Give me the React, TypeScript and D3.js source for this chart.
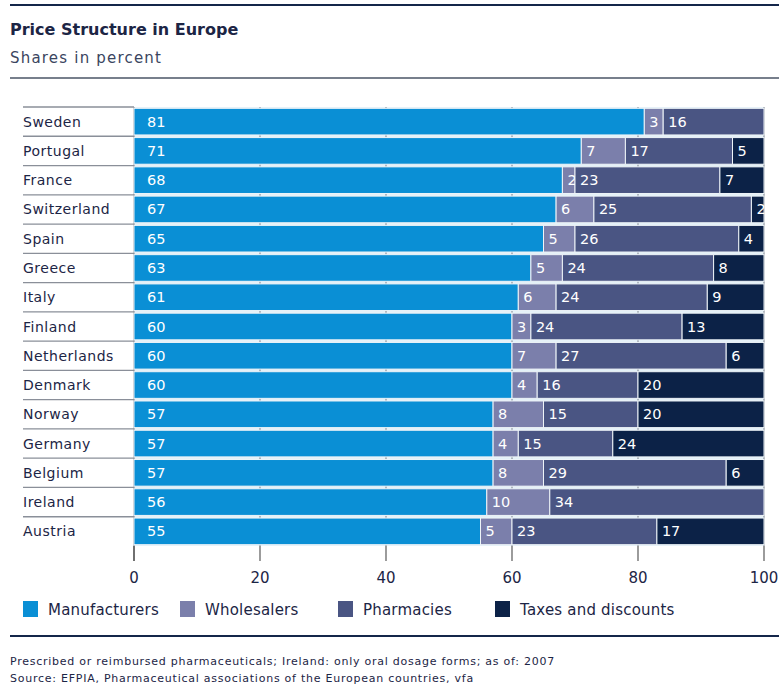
import React from "react";
import * as d3 from "d3";

const countries = ["Sweden", "Portugal", "France", "Switzerland", "Spain", "Greece", "Italy", "Finland", "Netherlands", "Denmark", "Norway", "Germany", "Belgium", "Ireland", "Austria"];
const manufacturers = [81, 71, 68, 67, 65, 63, 61, 60, 60, 60, 57, 57, 57, 56, 55];
const wholesalers = [3, 7, 2, 6, 5, 5, 6, 3, 7, 4, 8, 4, 8, 10, 5];
const pharmacies = [16, 17, 23, 25, 26, 24, 24, 24, 27, 16, 15, 15, 29, 34, 23];
const taxes = [0, 5, 7, 2, 4, 8, 9, 13, 6, 20, 20, 24, 6, 0, 17];
const seriesNames = ["Manufacturers", "Wholesalers", "Pharmacies", "Taxes and discounts"];
const xTicks = [0, 20, 40, 60, 80, 100];

const colors = ["#0a8fd5", "#7b7fab", "#4a5583", "#0c2247"];
const font = "'DejaVu Sans', sans-serif";
const textColor = "#1c2545";

export default function App() {
  const width = 779;
  const height = 686;

  const x = d3.scaleLinear().domain([0, 100]).range([134, 764]);
  const y = d3.scaleBand<string>().domain(countries).range([107, 546]).paddingInner(0.09).paddingOuter(0.045);

  const rows = countries.map((c, i) => ({ country: c, values: [manufacturers[i], wholesalers[i], pharmacies[i], taxes[i]] }));
  const stack = d3.stack<any, any, number>().keys([0, 1, 2, 3]).value((d, k) => d.values[k]);
  const stacked = stack(rows);

  const step = y.step();
  const legendX = [23, 180, 338, 495];

  return (
    <svg width={width} height={height} style={{ display: "block", position: "absolute", left: 0, top: 0 }} fontFamily={font}>
      <rect width={width} height={height} fill="#fff" />
      <line x1={10} x2={779} y1={5} y2={5} stroke="#14264a" strokeWidth={2} />
      <text x={10} y={35} fontSize={16} fontWeight="bold" fill={textColor}>Price Structure in Europe</text>
      <text x={10} y={63} fontSize={15} fill="#3a4560" letterSpacing={1.2}>Shares in percent</text>
      <line x1={10} x2={779} y1={78} y2={78} stroke="#4a5466" strokeWidth={1.5} />

      {/* row separators in label column */}
      {countries.map((c) => (
        <line key={c} x1={23} x2={134} y1={(y(c) as number) - (step - y.bandwidth()) / 2} y2={(y(c) as number) - (step - y.bandwidth()) / 2} stroke="#8a8f99" strokeWidth={1.3} />
      ))}
      <rect x={134} y={107} width={630} height={439} fill="#e4f1f8" />
      {/* grid lines */}
      {xTicks.map((t) => (
        <line key={t} x1={x(t)} x2={x(t)} y1={107} y2={546} stroke="#8a8f99" strokeWidth={1.2} />
      ))}

      {stacked.map((layer, k) => (
        <g key={k}>
          {layer.map((d, i) => {
            const v = d[1] - d[0];
            if (v <= 0) return null;
            const x0 = x(d[0]);
            const x1 = x(d[1]);
            const yy = y(countries[i]) as number;
            return (
              <g key={i}>
                <rect x={x0} y={yy} width={x1 - x0} height={y.bandwidth()} fill={colors[k]} stroke="#eef4f8" strokeWidth={1} />
                <text x={x0 + (k === 0 ? 13 : 5)} y={yy + y.bandwidth() / 2 + 5} fontSize={14.5} fill="#fff">{v}</text>
              </g>
            );
          })}
        </g>
      ))}

      {/* country labels */}
      {countries.map((c) => (
        <text key={c} x={23} y={(y(c) as number) + y.bandwidth() / 2 + 5} fontSize={14} fill={textColor} letterSpacing={0.5}>{c}</text>
      ))}

      {/* x axis */}
      {xTicks.map((t) => (
        <g key={t}>
          <line x1={x(t)} x2={x(t)} y1={546} y2={561} stroke={t === 0 ? "#222" : "#666"} strokeWidth={1.3} />
          <text x={x(t)} y={583} fontSize={15} textAnchor="middle" fill={textColor}>{t}</text>
        </g>
      ))}

      {/* legend */}
      {seriesNames.map((s, k) => (
        <g key={s}>
          <rect x={legendX[k]} y={601} width={15} height={16} fill={colors[k]} />
          <text x={legendX[k] + 25} y={615} fontSize={15} fill={textColor} letterSpacing={0.2}>{s}</text>
        </g>
      ))}

      <line x1={10} x2={779} y1={636} y2={636} stroke="#14264a" strokeWidth={2} />
      <text x={10} y={665} fontSize={11} fill={textColor} letterSpacing={0.75}>Prescribed or reimbursed pharmaceuticals; Ireland: only oral dosage forms; as of: 2007</text>
      <text x={10} y={682} fontSize={11} fill={textColor} letterSpacing={0.75}>Source: EFPIA, Pharmaceutical associations of the European countries, vfa</text>
    </svg>
  );
}
